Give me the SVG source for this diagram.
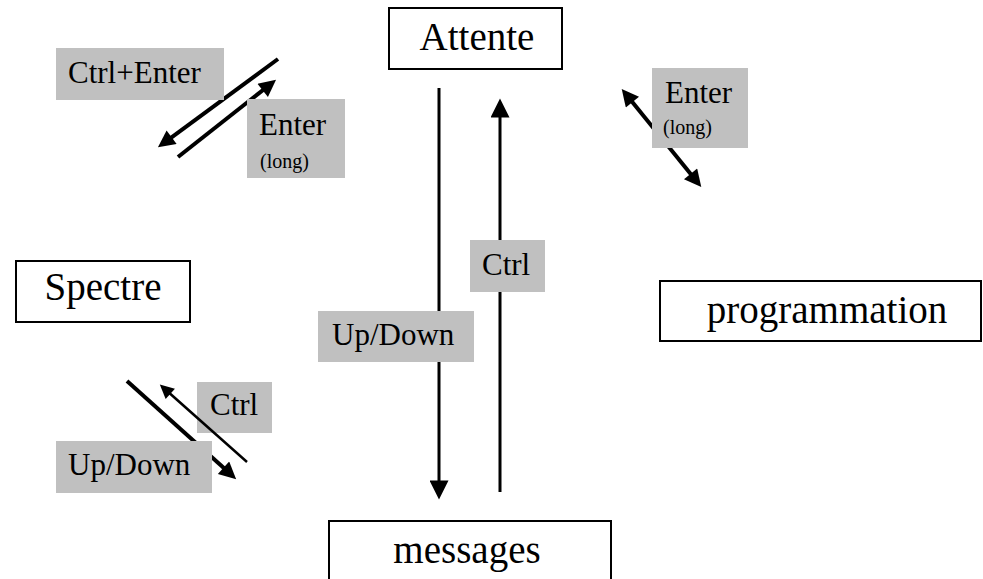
<svg xmlns="http://www.w3.org/2000/svg" width="983" height="579" viewBox="0 0 983 579">
<style>
.node{fill:#fff;stroke:#000;stroke-width:2}
.lab{fill:#c0c0c0;stroke:none}
.big{font-family:"Liberation Serif","Times New Roman",serif;font-size:39px;fill:#000}
.mid{font-family:"Liberation Serif","Times New Roman",serif;font-size:31px;fill:#000}
.sm{font-family:"Liberation Serif","Times New Roman",serif;font-size:20px;fill:#000}
.c{stroke:#000;fill:none}
.w3{stroke-width:3}
.w4{stroke-width:4}
.w25{stroke-width:2.5}
</style>
<defs>
<marker id="ah" viewBox="0 0 20 20" refX="12" refY="10" markerWidth="20" markerHeight="19" markerUnits="userSpaceOnUse" orient="auto-start-reverse">
<path d="M0,0 L20,10 L0,20 z" fill="#000"/>
</marker>
<marker id="ahd" viewBox="0 0 20 20" refX="12" refY="10" markerWidth="19" markerHeight="17" markerUnits="userSpaceOnUse" orient="auto-start-reverse">
<path d="M0,0 L20,10 L0,20 z" fill="#000"/>
</marker>
<marker id="ahs" viewBox="0 0 20 20" refX="12" refY="10" markerWidth="16" markerHeight="14" markerUnits="userSpaceOnUse" orient="auto-start-reverse">
<path d="M0,0 L20,10 L0,20 z" fill="#000"/>
</marker>
</defs>
<g id="connectors">
<line class="c w3" x1="439" y1="88" x2="439" y2="492" marker-end="url(#ah)"/>
<line class="c w3" x1="500" y1="492" x2="500" y2="106" marker-end="url(#ah)"/>
<line class="c w4" x1="278" y1="59" x2="163.4" y2="143.3" marker-end="url(#ahd)"/>
<line class="c w4" x1="178" y1="157" x2="270.7" y2="84" marker-end="url(#ahd)"/>
<line class="c w4" x1="626" y1="94.2" x2="697" y2="181.8" marker-start="url(#ahd)" marker-end="url(#ahd)"/>
<line class="c w4" x1="127" y1="381" x2="231.1" y2="474.6" marker-end="url(#ahd)"/>
</g>
<g id="label-ctrl-enter"><rect class="lab" x="56" y="48" width="168" height="52"/><text class="mid" x="68" y="83">Ctrl+Enter</text></g>
<g id="label-enter-long-left"><rect class="lab" x="247" y="99" width="98" height="79"/><text class="mid" x="259" y="135">Enter</text><text class="sm" x="260" y="168">(long)</text></g>
<g id="label-enter-long-right"><rect class="lab" x="652" y="68" width="96" height="80"/><text class="mid" x="665" y="103">Enter</text><text class="sm" x="663" y="134">(long)</text></g>
<g id="label-ctrl-center"><rect class="lab" x="470" y="240" width="75" height="52"/><text class="mid" x="482" y="275">Ctrl</text></g>
<g id="label-updown-center"><rect class="lab" x="318" y="311" width="156" height="51"/><text class="mid" x="332" y="345">Up/Down</text></g>
<g id="label-ctrl-low"><rect class="lab" x="197" y="382" width="75" height="51"/><text class="mid" x="210" y="415">Ctrl</text></g>
<g id="label-updown-low"><rect class="lab" x="56" y="441" width="156" height="52"/><text class="mid" x="68" y="475">Up/Down</text></g>
<g id="connectors-over-labels">
<line class="c w25" x1="247" y1="462" x2="164" y2="388.3" marker-end="url(#ahs)"/>
</g>
<g id="attente"><rect class="node" x="389" y="8" width="173" height="61"/><text class="big" x="477" y="50" text-anchor="middle">Attente</text></g>
<g id="spectre"><rect class="node" x="16" y="261" width="174" height="61"/><text class="big" x="103" y="300" text-anchor="middle">Spectre</text></g>
<g id="programmation"><rect class="node" x="660" y="281" width="321" height="60"/><text class="big" x="827" y="323" text-anchor="middle">programmation</text></g>
<g id="messages"><rect class="node" x="329" y="521" width="282" height="70"/><text class="big" x="467" y="563" text-anchor="middle">messages</text></g>
</svg>
